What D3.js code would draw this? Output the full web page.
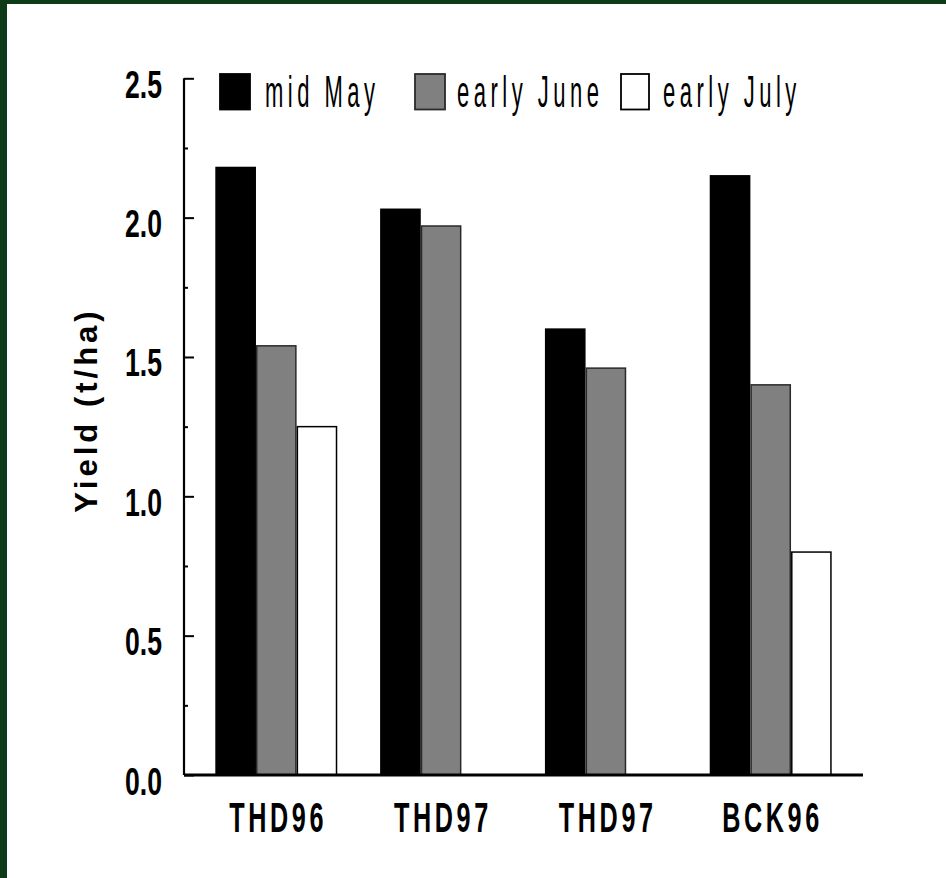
<!DOCTYPE html>
<html>
<head>
<meta charset="utf-8">
<script src="https://cdn.jsdelivr.net/npm/d3@7"></script>
<style>
  html, body { margin: 0; padding: 0; background: #0d3a17; }
  svg { display: block; }
  text { font-family: "Liberation Sans", Arial, Helvetica, sans-serif; fill: #000; }
</style>
</head>
<body>
<div id="chart"></div>
<script>
// sites / years along the x axis
const sites = ["THD96", "THD97", "THD97", "BCK96"];
// planting date series
const series = ["mid May", "early June", "early July"];
// yield (t/ha) per site, one array per series (null = no bar)
const midMay = [2.18, 2.03, 1.60, 2.15];
const earlyJune = [1.54, 1.97, 1.46, 1.40];
const earlyJuly = [1.25, null, null, 0.80];
// y axis ticks
const majorTicks = [0, 0.5, 1.0, 1.5, 2.0, 2.5];
const minorTicks = [0.25, 0.75, 1.25, 1.75, 2.25];

const width = 946, height = 878;

const svg = d3.select("#chart").append("svg")
    .attr("width", width)
    .attr("height", height);

// green frame, white slide
svg.append("rect").attr("width", width).attr("height", height).attr("fill", "#0d3a17");
svg.append("rect").attr("x", 7).attr("y", 4).attr("width", width - 7).attr("height", height - 4).attr("fill", "#fff");

const plot = { left: 184, right: 863, top: 78.3, bottom: 775 };

const y = d3.scaleLinear()
    .domain([0, 2.5])
    .range([plot.bottom, plot.top]);

const x = d3.scaleBand()
    .domain(d3.range(sites.length))
    .range([plot.left, plot.right])
    .paddingInner(0.26)
    .paddingOuter(0.19);

const xs = d3.scaleBand()
    .domain(series)
    .range([0, x.bandwidth()]);

const fills = { "mid May": "#000", "early June": "#808080", "early July": "#fff" };
const strokes = { "mid May": "#000", "early June": "#2a2a2a", "early July": "#000" };

const values = { "mid May": midMay, "early June": earlyJune, "early July": earlyJuly };

const rows = [];
sites.forEach((s, i) => {
    series.forEach(k => {
        const v = values[k][i];
        if (v != null) rows.push({ i, key: k, value: v });
    });
});

// bars
svg.append("g").selectAll("rect")
    .data(rows)
    .join("rect")
    .attr("x", d => x(d.i) + xs(d.key) + 0.75)
    .attr("y", d => y(d.value))
    .attr("width", xs.bandwidth() - 1.5)
    .attr("height", d => y(0) - y(d.value))
    .attr("fill", d => fills[d.key])
    .attr("stroke", d => strokes[d.key])
    .attr("stroke-width", 1.5);

// y axis: ticks point into the plot
const yMajor = svg.append("g")
    .attr("transform", `translate(${plot.left},0)`)
    .call(d3.axisRight(y).tickValues(majorTicks).tickSize(10).tickFormat(""));
yMajor.select(".domain").attr("stroke-width", 2.2).attr("d", `M0,${plot.top}V${plot.bottom}`);
yMajor.selectAll(".tick line").attr("stroke-width", 2);

const yMinor = svg.append("g")
    .attr("transform", `translate(${plot.left},0)`)
    .call(d3.axisRight(y).tickValues(minorTicks).tickSize(4).tickFormat(""));
yMinor.select(".domain").remove();
yMinor.selectAll(".tick line").attr("stroke-width", 2);

const yScaleX = 0.7;
const yLabels = svg.append("g")
    .attr("transform", `translate(${plot.left},0)`)
    .call(d3.axisLeft(y).tickValues(majorTicks).tickSize(0).tickPadding(22).tickFormat(d3.format(".1f")));
yLabels.select(".domain").remove();
yLabels.selectAll(".tick text")
    .attr("font-size", 38)
    .attr("font-weight", "bold")
    .attr("font-family", null)
    .attr("dy", "0.5em")
    .attr("x", -22 / yScaleX)
    .attr("transform", `scale(${yScaleX},1)`);

// x axis
const xScaleX = 0.6;
const xAxis = svg.append("g")
    .attr("transform", `translate(0,${plot.bottom})`)
    .call(d3.axisBottom(x).tickSize(0).tickPadding(27).tickFormat(i => sites[i]));
xAxis.select(".domain").attr("stroke-width", 3.2).attr("d", `M${plot.left},0H${plot.right}`);
xAxis.selectAll(".tick")
    .attr("transform", function () {
        const t = d3.select(this).attr("transform");
        const cx = +t.match(/translate\(([-\d.]+)/)[1];
        return `translate(${cx},0) scale(${xScaleX},1)`;
    });
xAxis.selectAll(".tick text")
    .attr("font-size", 42)
    .attr("font-weight", "bold")
    .attr("font-family", null)
    .attr("letter-spacing", 6)
    .attr("dx", 3);

// y title
svg.append("text")
    .attr("transform", "translate(97,410) rotate(-90)")
    .attr("text-anchor", "middle")
    .attr("font-size", 31)
    .attr("font-weight", "bold")
    .attr("letter-spacing", 4)
    .text("Yield (t/ha)");

// legend
const legendPos = [
    { box: 220, w: 30, text: 265 },
    { box: 415, w: 30, text: 457 },
    { box: 621, w: 28, text: 663 }
];
const legend = svg.append("g").selectAll("g")
    .data(series)
    .join("g");
legend.append("rect")
    .attr("x", (d, i) => legendPos[i].box)
    .attr("y", 74)
    .attr("width", (d, i) => legendPos[i].w)
    .attr("height", 35.5)
    .attr("fill", d => fills[d])
    .attr("stroke", d => strokes[d])
    .attr("stroke-width", 1.8);
const lScaleX = 0.5;
legend.append("text")
    .attr("transform", (d, i) => `translate(${legendPos[i].text},106.5) scale(${lScaleX},1)`)
    .attr("font-size", 44)
    .attr("letter-spacing", 9)
    .attr("fill", "#111")
    .text(d => d);
</script>
</body>
</html>
